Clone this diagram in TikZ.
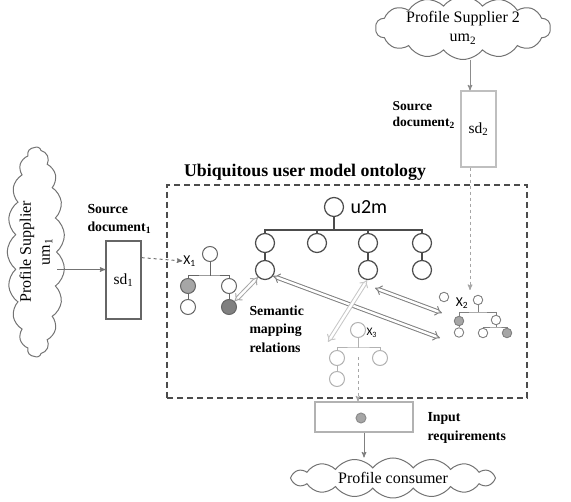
\documentclass[tikz,border=0pt]{standalone}
\usepackage{fontspec}
\setmainfont{Liberation Serif}
\newfontfamily\calfont{Carlito}
\usetikzlibrary{%
  arrows,%
  arrows.meta,%
  shapes,%
  shapes.symbols,% wg. cloud
  positioning,%
  calc
}

\begin{document}
\begin{tikzpicture}
  [
  x=1pt, y=-1pt, line width=1pt, >=stealth',
  cloudnode/.style={cloud, cloud ignores aspect, cloud puff arc=105, draw=black!55, line width=1pt, inner sep=0pt, align=center, font={\fontsize{16}{19}\selectfont}},
  docnode/.style={rectangle, line width=1.2pt, inner sep=0pt, font={\fontsize{15.5}{18}\selectfont}},
  lblnode/.style={anchor=west, align=left, inner sep=0pt, font={\bfseries\fontsize{13.8}{18.5}\selectfont}},
  bignode/.style={circle, draw=black!70, line width=1.2pt, minimum size=19pt, inner sep=0pt},
  midnode/.style={circle, line width=1pt, minimum size=15pt, inner sep=0pt},
  smallnode/.style={circle, line width=0.9pt, minimum size=9.5pt, inner sep=0pt, draw=black!50},
  semarrow/.style={double, double distance=2.4pt, line width=1pt, {Implies[scale=1.35]}-{Implies[scale=1.35]}},
  ]
  \useasboundingbox (0,0) rectangle (571,502);

  % clouds and documents
  \node[cloudnode, rotate=90, cloud puffs=19, minimum width=210pt, minimum height=48pt] (um1) at (36,252) {Profile Supplier\\um\textsubscript{1}};
  \node[cloudnode, cloud puffs=14, minimum width=175pt, minimum height=50pt] (um2) at (463,28) {Profile Supplier 2\\um\textsubscript{2}};
  \node[cloudnode, cloud puffs=16, minimum width=205pt, minimum height=40pt] (cons) at (393,478) {Profile consumer};

  \node[docnode, draw=black!60, minimum width=35pt, minimum height=78pt] (sd1) at (123.5,280) {sd\textsubscript{1}};
  \node[docnode, draw=black!25, minimum width=35pt, minimum height=76pt] (sd2) at (478.5,129) {sd\textsubscript{2}};
  \node[lblnode] (src1) at (87,219) {Source\\document\textsubscript{1}};
  \node[lblnode, font={\bfseries\fontsize{13.5}{16.5}\selectfont}] (src2) at (392,115) {Source\\document\textsubscript{2}};

  % ontology frame
  \node[draw=black!70, dashed, dash pattern=on 6pt off 4pt, line width=1.5pt, minimum width=360pt, minimum height=213pt, inner sep=0pt] (onto) at (347,291.5) {};
  \node[font={\bfseries\fontsize{17.8}{20}\selectfont}] (title) at (305,172) {Ubiquitous user model ontology};

  % u2m tree
  \node[bignode] (u0) at (334,207) {};
  \node[anchor=west, inner sep=0pt, font={\calfont\fontsize{20}{22}\selectfont}] (u0lab) at (350,207) {u2m};
  \coordinate (ubar) at (334,230);
  \foreach \i/\x in {1/265,2/317,3/368,4/422} {
    \node[bignode] (u\i a) at (\x,243) {};
  }
  \foreach \i/\x in {1/265,3/368,4/422} {
    \node[bignode] (u\i b) at (\x,270) {};
    \draw[black!70, line width=1.2pt] (u\i a) -- (u\i b);
  }
  \draw[black!70, line width=1.2pt] (u0) -- (ubar);
  \draw[black!70, line width=1.2pt] (u1a.north) |- (ubar) -| (u4a.north);
  \draw[black!70, line width=1.2pt] (u2a.north) -- (u2a.north |- ubar);
  \draw[black!70, line width=1.2pt] (u3a.north) -- (u3a.north |- ubar);

  % X1 tree
  \node[inner sep=0.5pt, font={\calfont\fontsize{13.5}{15}\selectfont}] (x1lab) at (189.5,261) {X\textsubscript{1}};
  \node[midnode, draw=black!60] (x1r) at (210,254) {};
  \coordinate (x1bar) at (210,276);
  \node[midnode, draw=black!60, fill=black!35] (x1a) at (188,286) {};
  \node[midnode, draw=black!60] (x1b) at (188,307) {};
  \node[midnode, draw=black!60] (x1c) at (229,286) {};
  \node[midnode, draw=black!60, fill=black!50] (x1d) at (229,307) {};
  \draw[black!60] (x1r) -- (x1bar);
  \draw[black!60] (x1a.north) |- (x1bar) -| (x1c.north);
  \draw[black!60] (x1a) -- (x1b);
  \draw[black!60] (x1c) -- (x1d);

  % X2 tree
  \node[smallnode] (x2s) at (444,297) {};
  \node[inner sep=0.5pt, font={\calfont\fontsize{13.5}{15}\selectfont}] (x2lab) at (462,303) {X\textsubscript{2}};
  \node[smallnode] (x2r) at (478,300) {};
  \coordinate (x2bar) at (478,312);
  \node[smallnode, fill=black!35] (x2a) at (459,321) {};
  \node[smallnode] (x2b) at (459,332.5) {};
  \node[smallnode] (x2c) at (496,320) {};
  \coordinate (x2sub) at (496,327);
  \node[smallnode] (x2d) at (483,333) {};
  \node[smallnode, fill=black!35] (x2e) at (507,333) {};
  \draw[black!50, line width=0.9pt] (x2r) -- (x2bar);
  \draw[black!50, line width=0.9pt] (x2a.north) |- (x2bar) -| (x2c.north);
  \draw[black!50, line width=0.9pt] (x2a) -- (x2b);
  \draw[black!50, line width=0.9pt] (x2c) -- (x2sub);
  \draw[black!50, line width=0.9pt] (x2d.north) |- (x2sub) -| (x2e.north);

  % X3 tree
  \node[midnode, draw=black!30] (x3r) at (358,330) {};
  \node[anchor=west, inner sep=0pt, font={\calfont\fontsize{11.5}{13}\selectfont}] (x3lab) at (366,333) {X\textsubscript{3}};
  \coordinate (x3bar) at (358,348);
  \node[midnode, draw=black!30] (x3a) at (337,358) {};
  \node[midnode, draw=black!30] (x3b) at (337,379) {};
  \node[midnode, draw=black!30] (x3c) at (380,358) {};
  \draw[black!30] (x3r) -- (x3bar);
  \draw[black!30] (x3a.north) |- (x3bar) -| (x3c.north);
  \draw[black!30] (x3a) -- (x3b);

  % input requirements
  \node[rectangle, draw=black!30, line width=1.2pt, minimum width=98pt, minimum height=30pt] (inreq) at (364,417) {};
  \node[circle, draw=black!45, fill=black!35, minimum size=10pt, inner sep=0pt] (idot) at (361,418) {};
  \node[lblnode] (inlab) at (427,428) {Input\\requirements};
  \node[lblnode] (semlab) at (249,329) {Semantic\\mapping\\relations};

  % connectors
  \coordinate (x2in) at (470,290);
  \draw[->, black!55] (um1.south |- sd1.150) -- (sd1.150);
  \draw[->, black!55, dashed] (sd1.51) -- (x1lab.west);
  \draw[->, black!45] (um2.south -| x2in) -- (sd2.north -| x2in);
  \draw[->, black!35, dashed] (sd2.south -| x2in) -- (x2in);
  \draw[->, black!35, dashed, shorten <=9pt] (x3bar) -- (x3bar |- inreq.north);
  \draw[->, black!50] (inreq.south) -- (inreq.south |- cons.north);

  % semantic mapping relations
  \coordinate (sm2) at (440,338);
  \coordinate (sm3) at (328,342);
  \coordinate (sm4a) at (375,288);
  \coordinate (sm4b) at (442,313);
  \draw[semarrow, black!35] (x1d) -- (u1b);
  \draw[semarrow, black!50] (u1b.-37) -- (sm2);
  \draw[semarrow, black!22] (u3b.-95) -- (sm3);
  \draw[semarrow, black!50] (sm4a) -- (sm4b);

\end{tikzpicture}
\end{document}
